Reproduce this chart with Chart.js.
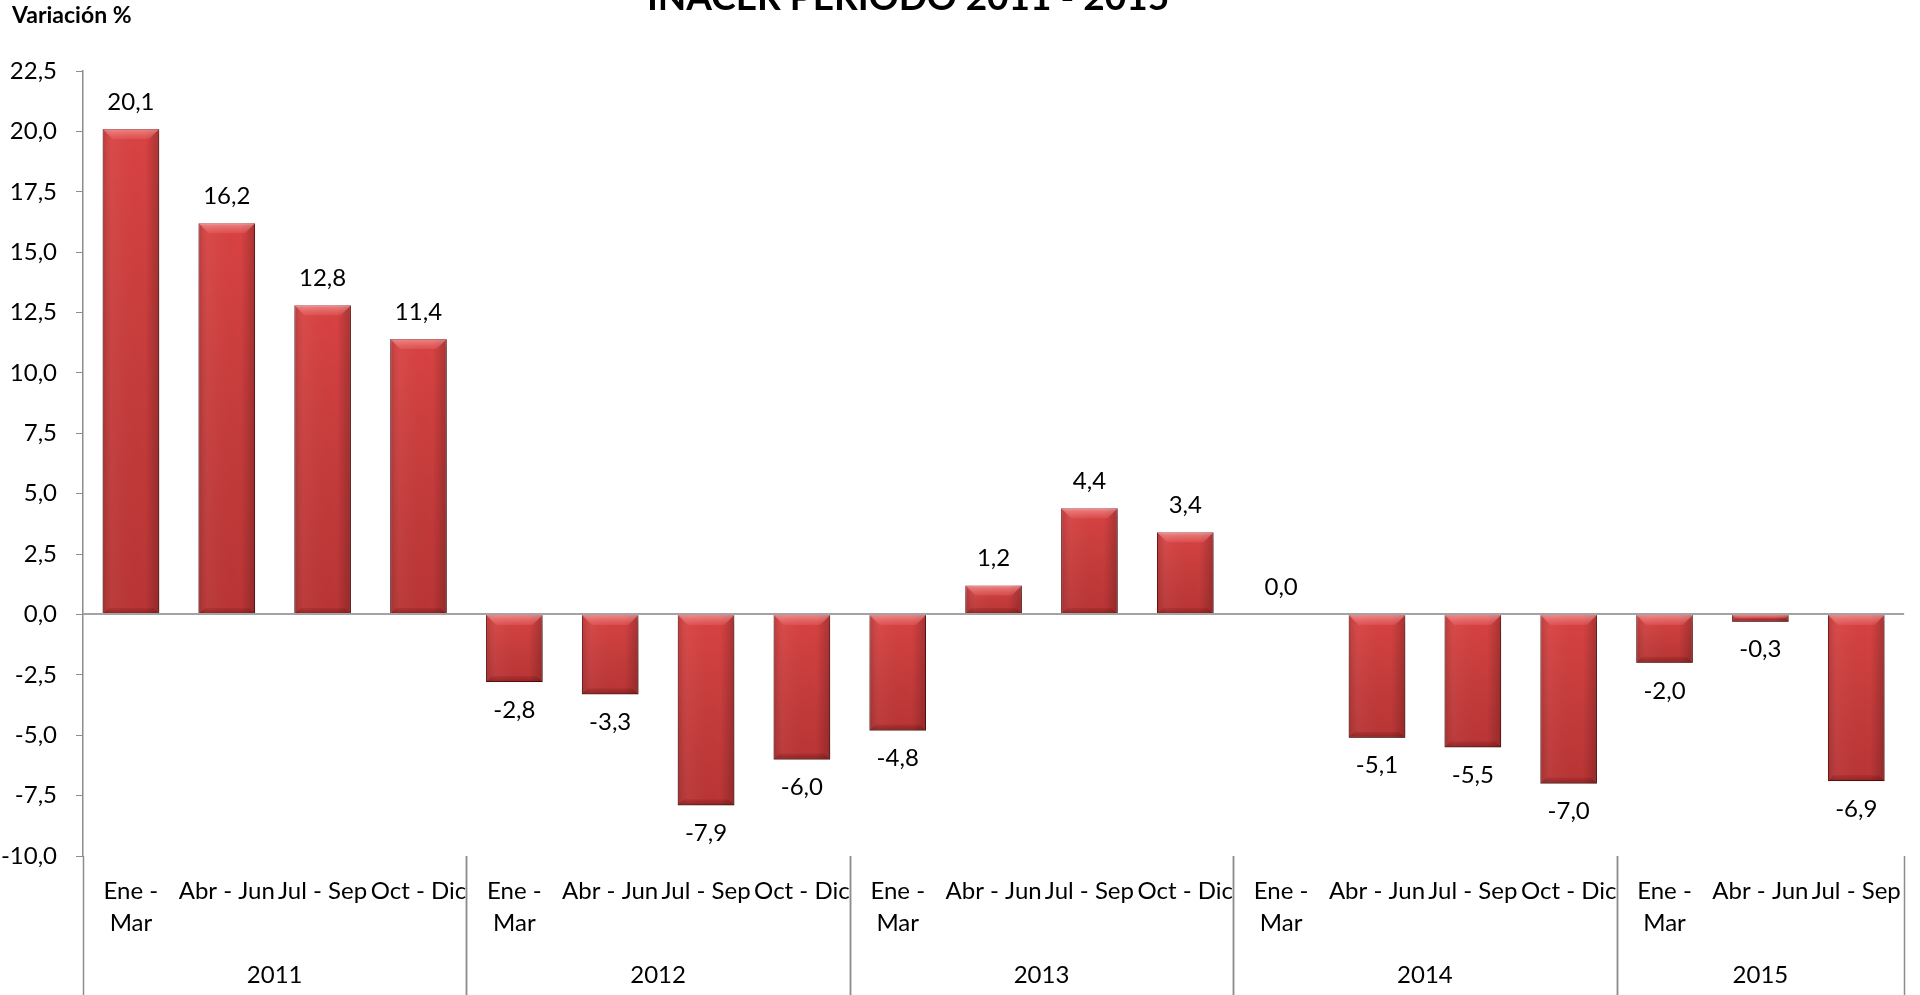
<!DOCTYPE html>
<html>
<head>
<meta charset="utf-8">
<title>INACER periodo 2011 - 2015</title>
<script src="https://cdn.jsdelivr.net/npm/chart.js@4.4.1/dist/chart.umd.min.js"></script>
<style>
    html, body { margin: 0; padding: 0; background: #fff; }
    #wrap { position: relative; width: 1920px; height: 995px; }
</style>
</head>
<body>
<div id="wrap"><canvas id="inacerChart"></canvas></div>
<script>
// data
const quarters = [
    ['Ene -', 'Mar'], 'Abr - Jun', 'Jul - Sep', 'Oct - Dic',
    ['Ene -', 'Mar'], 'Abr - Jun', 'Jul - Sep', 'Oct - Dic',
    ['Ene -', 'Mar'], 'Abr - Jun', 'Jul - Sep', 'Oct - Dic',
    ['Ene -', 'Mar'], 'Abr - Jun', 'Jul - Sep', 'Oct - Dic',
    ['Ene -', 'Mar'], 'Abr - Jun', 'Jul - Sep'
];
const years = ['2011', '2012', '2013', '2014', '2015'];
const quartersPerYear = [4, 4, 4, 4, 3];
const variation = [
    20.1, 16.2, 12.8, 11.4,
    -2.8, -3.3, -7.9, -6.0,
    -4.8, 1.2, 4.4, 3.4,
    0.0, -5.1, -5.5, -7.0,
    -2.0, -0.3, -6.9
];
const yMin = -10;
const yMax = 22.5;
const yStep = 2.5;

const chartTitle = 'INACER PERIODO 2011 - 2015';
const yTitle = 'Variación %';
const fontName = 'Lato, "Open Sans", sans-serif';

function fmt(v) {
    return v.toFixed(1).replace('.', ',');
}

// bevel + shadow look of the bars, zero line on top, and the extra texts
const excelLook = {
    id: 'excelLook',
    beforeDatasetsDraw(chart) {
        const ctx = chart.ctx;
        ctx.save();
        ctx.shadowColor = 'rgba(0, 0, 0, 0.3)';
        ctx.shadowBlur = 8;
        ctx.shadowOffsetX = 2;
        ctx.shadowOffsetY = 4;
    },
    afterDatasetsDraw(chart) {
        const ctx = chart.ctx;
        ctx.restore();
        chart.getDatasetMeta(0).data.forEach(bar => {
            const l = bar.x - bar.width / 2;
            const r = bar.x + bar.width / 2;
            const t = Math.min(bar.y, bar.base);
            const b = Math.max(bar.y, bar.base);
            const h = b - t;
            if (h < 1) return;
            ctx.save();
            let g = ctx.createLinearGradient(l, 0, r, 0);
            g.addColorStop(0, 'rgba(0,0,0,0.14)');
            g.addColorStop(0.2, 'rgba(255,255,255,0.04)');
            g.addColorStop(0.75, 'rgba(0,0,0,0)');
            g.addColorStop(1, 'rgba(0,0,0,0.22)');
            ctx.fillStyle = g;
            ctx.fillRect(l, t, r - l, h);
            g = ctx.createLinearGradient(0, t, 0, b);
            g.addColorStop(0, 'rgba(0,0,0,0)');
            g.addColorStop(1, 'rgba(60,0,0,0.2)');
            ctx.fillStyle = g;
            ctx.fillRect(l, t, r - l, h);
            // top bevel
            const bv = Math.min(10, h / 2);
            g = ctx.createLinearGradient(0, t, 0, t + bv);
            g.addColorStop(0, 'rgba(255,190,190,0.55)');
            g.addColorStop(1, 'rgba(255,150,150,0.15)');
            ctx.fillStyle = g;
            ctx.beginPath();
            ctx.moveTo(l, t);
            ctx.lineTo(r, t);
            ctx.lineTo(r - bv, t + bv);
            ctx.lineTo(l + bv, t + bv);
            ctx.closePath();
            ctx.fill();
            // bottom bevel
            const bb = Math.min(6, h / 2);
            g = ctx.createLinearGradient(0, b - bb, 0, b);
            g.addColorStop(0, 'rgba(70,0,0,0.1)');
            g.addColorStop(1, 'rgba(70,0,0,0.35)');
            ctx.fillStyle = g;
            ctx.beginPath();
            ctx.moveTo(l, b);
            ctx.lineTo(r, b);
            ctx.lineTo(r - bb, b - bb);
            ctx.lineTo(l + bb, b - bb);
            ctx.closePath();
            ctx.fill();
            ctx.restore();
        });

        // zero line sits over the bars
        const y0 = Math.round(chart.scales.y.getPixelForValue(0));
        const area = chart.chartArea;
        ctx.save();
        ctx.strokeStyle = '#a3a3a3';
        ctx.lineWidth = 2;
        ctx.beginPath();
        ctx.moveTo(area.left, y0);
        ctx.lineTo(area.right, y0);
        ctx.stroke();
        ctx.restore();
    },
    afterDraw(chart) {
        const ctx = chart.ctx;
        const x = chart.scales.x;
        const area = chart.chartArea;
        ctx.save();

        // value labels
        ctx.font = '24px ' + fontName;
        ctx.fillStyle = '#000';
        ctx.textAlign = 'center';
        ctx.textBaseline = 'middle';
        chart.getDatasetMeta(0).data.forEach((bar, i) => {
            const v = variation[i];
            const y = v >= 0 ? bar.y - 27 : bar.y + 28;
            ctx.fillText(fmt(v), bar.x, y);
        });

        // year group separators and year labels
        ctx.strokeStyle = '#8c8c8c';
        ctx.lineWidth = 1.5;
        let start = 0;
        const edge = idx => {
            if (idx <= 0) return x.left;
            if (idx >= variation.length) return x.right;
            return (x.getPixelForValue(idx - 1) + x.getPixelForValue(idx)) / 2;
        };
        quartersPerYear.forEach((n, k) => {
            const x0 = edge(start);
            const x1 = edge(start + n);
            [x0, x1].forEach(px => {
                ctx.beginPath();
                ctx.moveTo(Math.round(px) + 0.5, area.bottom);
                ctx.lineTo(Math.round(px) + 0.5, chart.height);
                ctx.stroke();
            });
            ctx.fillText(years[k], (x0 + x1) / 2, 975);
            start += n;
        });

        // axis title and chart title
        ctx.textAlign = 'left';
        ctx.font = 'bold 23px ' + fontName;
        ctx.fillText(yTitle, 12, 16);
        ctx.textAlign = 'center';
        ctx.textBaseline = 'alphabetic';
        ctx.font = 'bold 37px ' + fontName;
        ctx.fillText(chartTitle, 908, 10);
        ctx.restore();
    }
};

function drawChart() {
    const canvas = document.getElementById('inacerChart');
    new Chart(canvas, {
        type: 'bar',
        data: {
            labels: quarters,
            datasets: [{
                label: yTitle,
                data: variation,
                backgroundColor: '#d94242',
                borderColor: '#8a1a1a',
                borderWidth: 1,
                barPercentage: 0.59,
                categoryPercentage: 1.0
            }]
        },
        options: {
            responsive: true,
            maintainAspectRatio: false,
            animation: false,
            layout: {
                padding: { top: 71, right: 8, bottom: 0, left: 0 }
            },
            plugins: {
                legend: { display: false },
                tooltip: { enabled: false },
                title: { display: false }
            },
            scales: {
                x: {
                    grid: { display: false, drawTicks: false },
                    border: { display: false },
                    ticks: {
                        autoSkip: false,
                        maxRotation: 0,
                        minRotation: 0,
                        padding: 19,
                        color: '#000',
                        font: { family: fontName, size: 24, lineHeight: 1.33 }
                    },
                    afterFit(scale) {
                        scale.height = 139;
                    }
                },
                y: {
                    min: yMin,
                    max: yMax,
                    border: { display: true, color: '#8c8c8c', width: 1.5 },
                    grid: {
                        drawTicks: true,
                        tickLength: 7,
                        tickColor: '#8c8c8c',
                        color: 'rgba(0,0,0,0)'
                    },
                    ticks: {
                        stepSize: yStep,
                        padding: 19,
                        color: '#000',
                        font: { family: fontName, size: 24 },
                        callback: v => fmt(v)
                    },
                    afterFit(scale) {
                        scale.width = 83;
                    }
                }
            }
        },
        plugins: [excelLook]
    });
}

if (document.fonts && document.fonts.load) {
    Promise.all([
        document.fonts.load('24px Lato'),
        document.fonts.load('bold 24px Lato')
    ]).then(drawChart, drawChart);
} else {
    drawChart();
}
</script>
</body>
</html>
